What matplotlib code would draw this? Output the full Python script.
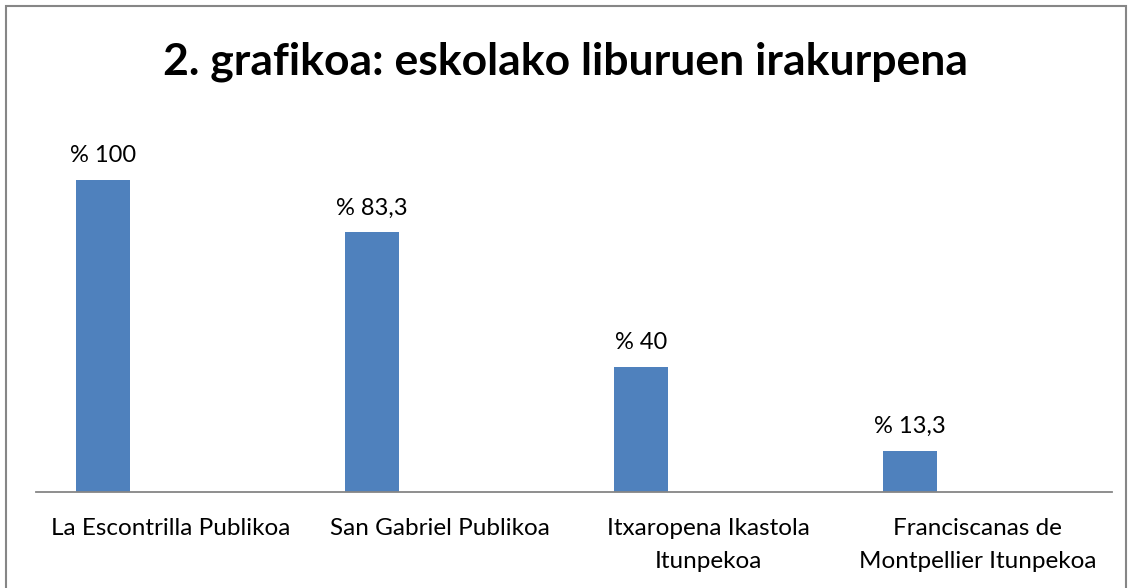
import matplotlib.pyplot as plt
from matplotlib.patches import Rectangle

# chart data
schools = ['La Escontrilla Publikoa', 'San Gabriel Publikoa',
           'Itxaropena Ikastola\nItunpekoa', 'Franciscanas de\nMontpellier Itunpekoa']
values = [100, 83.3, 40, 13.3]
labels = ['% 100', '% 83,3', '% 40', '% 13,3']

plt.rcParams['font.family'] = ['Lato', 'DejaVu Sans']

fig = plt.figure(figsize=(11.31, 5.88), dpi=100)
ax = fig.add_axes([36 / 1131, 1 - 492 / 588, (1112 - 36) / 1131, 374 / 588])

# bars sit in the left half of each category slot
pos = [i + 0.25 for i in range(len(values))]
bars = ax.bar(pos, values, width=0.2, color='#4f81bd', zorder=2)
for b, lab in zip(bars, labels):
    ax.text(b.get_x() + b.get_width() / 2, b.get_height() + 4.5, lab,
            ha='center', va='bottom', fontsize=17)

ax.set_xlim(0, 4)
ax.set_ylim(0, 120)
ax.set_xticks([i + 0.5 for i in range(len(schools))])
ax.set_xticklabels(schools, fontsize=17.5, linespacing=1.7)
ax.tick_params(axis='x', length=0, pad=19)
ax.set_yticks([])
for s in ['top', 'right', 'left']:
    ax.spines[s].set_visible(False)
ax.spines['bottom'].set_color('#868686')
ax.spines['bottom'].set_linewidth(1.3)

fig.text(0.5, 1 - 62 / 588, '2. grafikoa: eskolako liburuen irakurpena',
         ha='center', va='center', fontsize=32, fontweight='bold')

# chart frame
fig.add_artist(Rectangle((6 / 1131, -0.05), 1120 / 1131, 1.05 - 6 / 588,
                         transform=fig.transFigure, fill=False,
                         edgecolor='#868686', linewidth=1.5, clip_on=False))

fig.savefig('out.png')
